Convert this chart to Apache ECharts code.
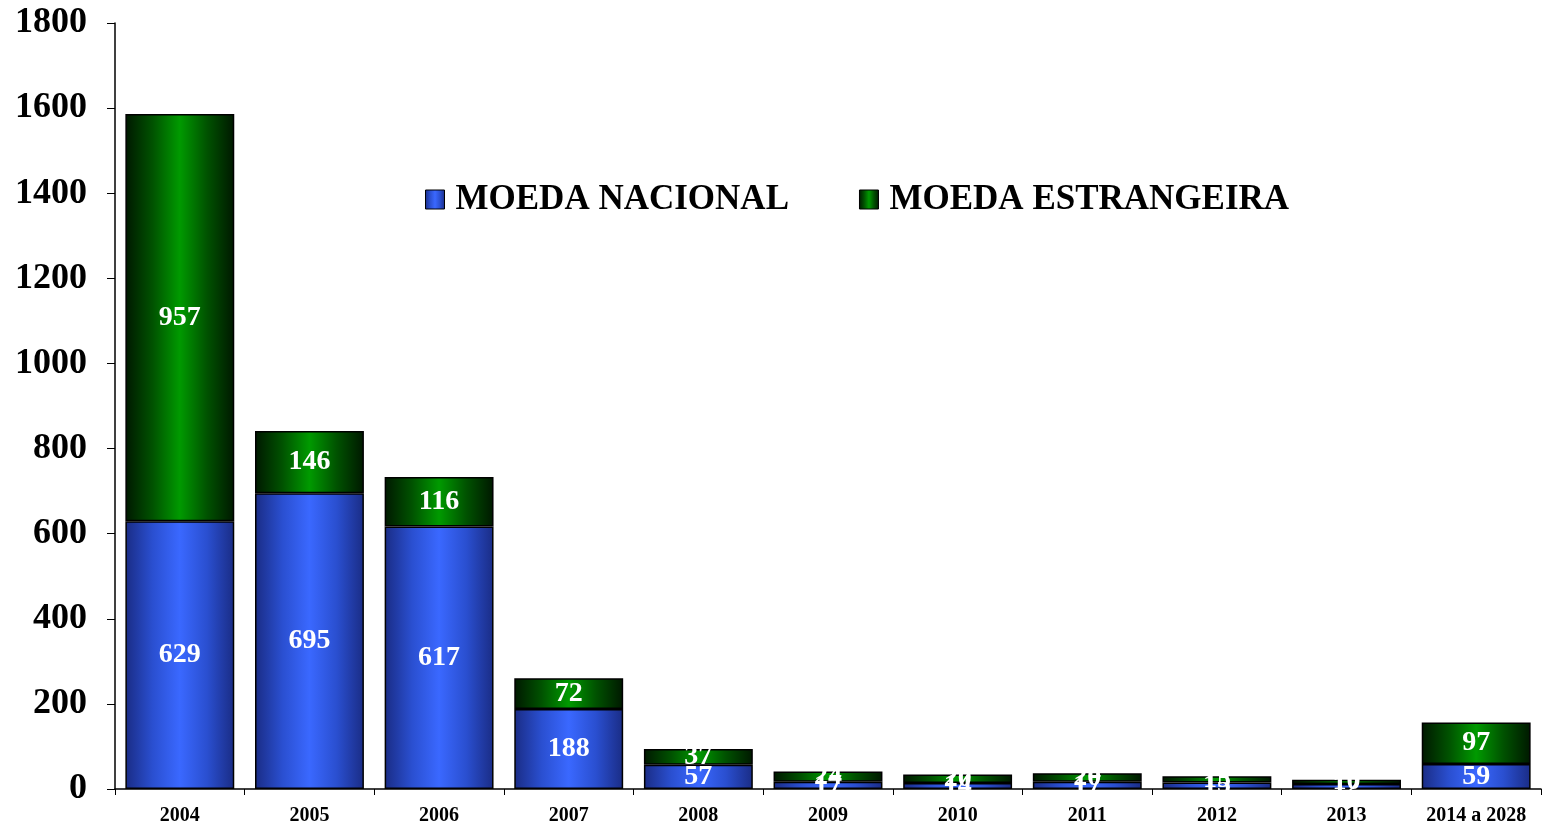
<!DOCTYPE html>
<html><head><meta charset="utf-8">
<script src="https://cdn.jsdelivr.net/npm/echarts@6/dist/echarts.min.js"></script>
<style>html,body{margin:0;padding:0;background:#fff}#c{width:1546px;height:826px}</style>
</head><body><div id="c"></div>
<script>
const categories = ['2004','2005','2006','2007','2008','2009','2010','2011','2012','2013','2014 a 2028'];
const nacional = [629,695,617,188,57,17,14,17,15,12,59];
const estrangeira = [957,146,116,72,37,24,20,20,15,10,97];
const yTicks = [0,200,400,600,800,1000,1200,1400,1600,1800];

const font = '"Liberation Serif","Times New Roman",serif';
function grad(edge, mid, center){
  return {type:'linear', x:0, y:0, x2:1, y2:0, colorStops:[
    {offset:0, color:edge},{offset:0.25, color:mid},{offset:0.5, color:center},
    {offset:0.75, color:mid},{offset:1, color:edge}]};
}
const blue = grad('#1a2c85','#2a4fd0','#3a68ff');
const green = grad('#001800','#005200','#009a00');

const chart = echarts.init(document.getElementById('c'));
chart.setOption({
  animation:false,
  backgroundColor:'#fff',
  grid:{left:115, right:5, top:23, bottom:36},
  legend:{
    left:420, top:177, itemGap:70, itemWidth:19, itemHeight:19,
    icon:'rect',
    textStyle:{fontFamily:font, fontWeight:'bold', fontSize:35, color:'#000', padding:[0,0,0,6]},
    data:[
      {name:'MOEDA NACIONAL', itemStyle:{color:blue, borderColor:'#000', borderWidth:1}},
      {name:'MOEDA ESTRANGEIRA', itemStyle:{color:green, borderColor:'#000', borderWidth:1}}
    ]
  },
  xAxis:{
    type:'category', data:categories, boundaryGap:true,
    axisLine:{lineStyle:{color:'#000', width:1.5}},
    axisTick:{show:true, alignWithLabel:false, length:6, lineStyle:{color:'#000'}},
    axisLabel:{fontFamily:font, fontWeight:'bold', fontSize:20, color:'#000', margin:17, interval:0}
  },
  yAxis:{
    type:'value', min:0, max:1800, interval:200,
    splitLine:{show:false},
    axisLine:{show:true, lineStyle:{color:'#000', width:1.5}},
    axisTick:{show:true, length:8, lineStyle:{color:'#000'}},
    axisLabel:{fontFamily:font, fontWeight:'bold', fontSize:36, color:'#000', margin:28,
      formatter:v=> yTicks.includes(v) ? String(v) : ''}
  },
  series:[
    {name:'MOEDA NACIONAL', type:'bar', stack:'t', data:nacional, barCategoryGap:'16%',
     itemStyle:{color:blue, borderColor:'#000', borderWidth:1.5},
     label:{show:true, position:'inside', color:'#fff', fontFamily:font, fontWeight:'bold', fontSize:28}},
    {name:'MOEDA ESTRANGEIRA', type:'bar', stack:'t', data:estrangeira, barCategoryGap:'16%',
     itemStyle:{color:green, borderColor:'#000', borderWidth:1.5},
     label:{show:true, position:'inside', color:'#fff', fontFamily:font, fontWeight:'bold', fontSize:28}}
  ]
});
</script></body></html>
